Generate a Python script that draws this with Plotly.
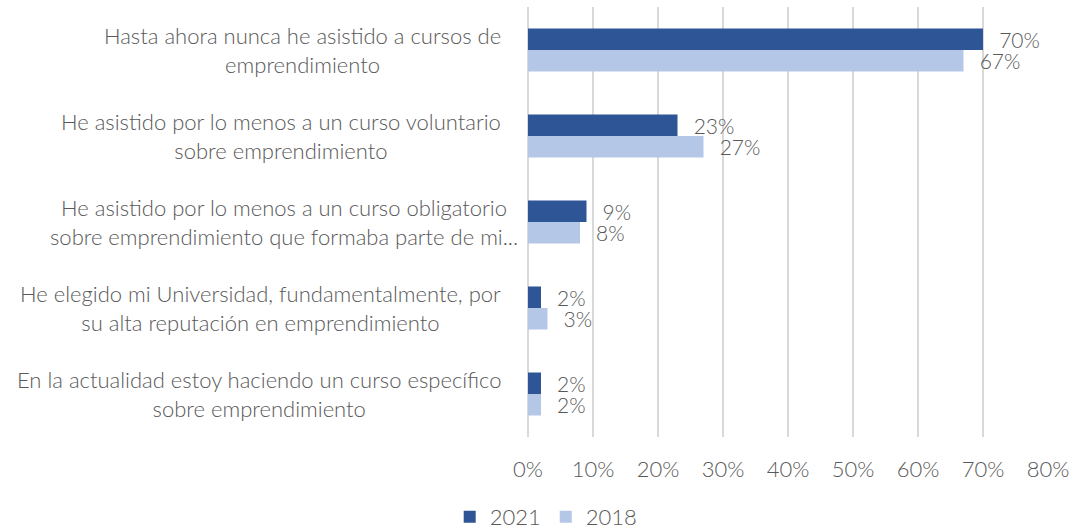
import plotly.graph_objects as go

categories = [
    "Hasta ahora nunca he asistido a cursos de<br>emprendimiento",
    "He asistido por lo menos a un curso voluntario<br>sobre emprendimiento",
    "He asistido por lo menos a un curso obligatorio<br>sobre emprendimiento que formaba parte de mi...",
    "He elegido mi Universidad, fundamentalmente, por<br>su alta reputación en emprendimiento",
    "En la actualidad estoy haciendo un curso específico<br>sobre emprendimiento",
]
series_names = ["2021", "2018"]
values_2021 = [70, 23, 9, 2, 2]
values_2018 = [67, 27, 8, 3, 2]
x_ticks = [0, 10, 20, 30, 40, 50, 60, 70, 80]

colors = {"2021": "#2e5596", "2018": "#b4c7e7"}
font_family = "Lato"
font_weight = 300
font_size = 22
label_size = 21
text_color = "#595959"

fig = go.Figure()
for name, vals in [("2021", values_2021), ("2018", values_2018)]:
    fig.add_trace(go.Bar(
        y=categories, x=vals, name=name, orientation="h",
        marker=dict(color=colors[name], line=dict(width=0)),
        text=[f"\u2002\u2009{v}%" for v in vals],
        textposition="outside", cliponaxis=False, constraintext="none",
        textfont=dict(family=font_family, size=label_size, color=text_color, weight=font_weight),
    ))

# category labels as centered annotations (block right-aligned, lines centered)
for i, c in enumerate(categories):
    fig.add_annotation(
        x=0, xref="paper", y=c, yref="y", text=c, showarrow=False,
        xanchor="right", xshift=(-8 if i == 2 else -25), align="center",
        font=dict(family=font_family, size=font_size, color=text_color, weight=font_weight),
    )

fig.update_layout(
    width=1072, height=530,
    margin=dict(l=528, r=24, t=7, b=93, autoexpand=False),
    paper_bgcolor="white", plot_bgcolor="white",
    barmode="group", bargap=0.5, bargroupgap=0,
    showlegend=True,
    legend=dict(orientation="h", x=0.035, xanchor="center", y=-0.186, yanchor="middle",
                font=dict(family=font_family, size=font_size, color=text_color, weight=font_weight),
                traceorder="normal"),
    font=dict(family=font_family, size=font_size, color=text_color, weight=font_weight),
)
fig.update_yaxes(autorange="reversed", showticklabels=False, showgrid=False,
                 showline=False, zeroline=False, ticks="")
fig.update_xaxes(range=[0, 80], tickvals=x_ticks, ticktext=[f"{t}%" for t in x_ticks],
                 showgrid=True, gridcolor="#d9d9d9", gridwidth=2,
                 zeroline=True, zerolinecolor="#d9d9d9", zerolinewidth=2,
                 showline=False, ticks="outside", ticklen=13, tickcolor="rgba(0,0,0,0)",
                 tickfont=dict(family=font_family, size=font_size, color=text_color, weight=font_weight))

fig.write_html("out.html", config={"displayModeBar": False},
               post_script="document.body.style.margin='0';")
